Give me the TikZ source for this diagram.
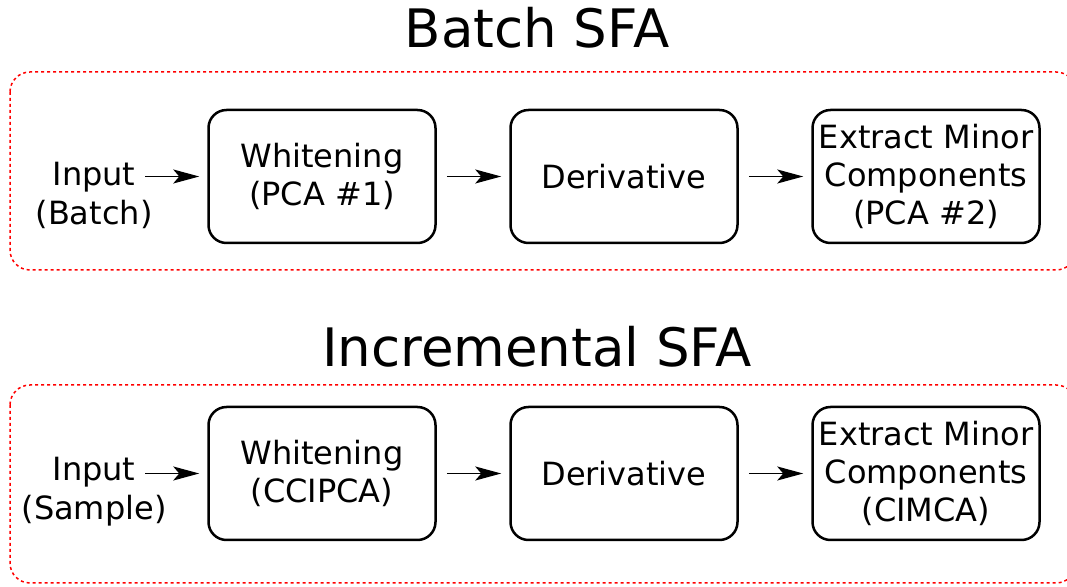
\documentclass[tikz,border=0pt]{standalone}
\usepackage{fontspec}
\setmainfont{DejaVu Sans}
\usetikzlibrary{arrows.meta}

\begin{document}
\begin{tikzpicture}[x=0.5pt,y=-0.5pt]
        \tikzstyle{stage}=[draw, line width=1.25pt, rounded corners=9pt, minimum width=113.5pt, minimum height=66.5pt, inner sep=2pt, align=center, font=\fontsize{16}{19}\selectfont]
        \tikzstyle{input}=[align=center, inner sep=0pt, font=\fontsize{16}{19.5}\selectfont]
        \tikzstyle{title}=[font=\fontsize{26.5}{30}\selectfont]
        \tikzstyle{frame}=[red, line width=0.75pt, dash pattern=on 1.5pt off 1.5pt, rounded corners=10pt]
        \tikzstyle{flow}=[-{Stealth[length=13pt,width=7pt,inset=3pt]}, line width=0.8pt, shorten <=5pt, shorten >=4pt]
        \useasboundingbox (0,0) rectangle (1067,587);

        % batch SFA
        \node[title] (tBatch) at (537,28) {Batch SFA};
        \draw[frame] (10,72) rectangle (1076,270);
        \node[input] (inA) at (94,195) {Input\\(Batch)};
        \node[stage] (wA) at (322,176.5) {Whitening\\(PCA \#1)};
        \node[stage] (dA) at (624,176.5) {Derivative};
        \node[stage] (eA) at (926,176.5) {Extract Minor\\Components\\(PCA \#2)};
        \draw[flow, shorten <=0pt] ([xshift=-31pt]wA.west) -- (wA.west);
        \draw[flow] (wA.east) -- (dA.west);
        \draw[flow] (dA.east) -- (eA.west);

        % incremental SFA
        \node[title] (tInc) at (537,347) {Incremental SFA};
        \draw[frame] (10,385) rectangle (1076,583);
        \node[input] (inB) at (94,492) {Input\\(Sample)};
        \node[stage] (wB) at (322,473.5) {Whitening\\(CCIPCA)};
        \node[stage] (dB) at (624,473.5) {Derivative};
        \node[stage] (eB) at (926,473.5) {Extract Minor\\Components\\(CIMCA)};
        \draw[flow, shorten <=0pt] ([xshift=-31pt]wB.west) -- (wB.west);
        \draw[flow] (wB.east) -- (dB.west);
        \draw[flow] (dB.east) -- (eB.west);
\end{tikzpicture}
\end{document}
